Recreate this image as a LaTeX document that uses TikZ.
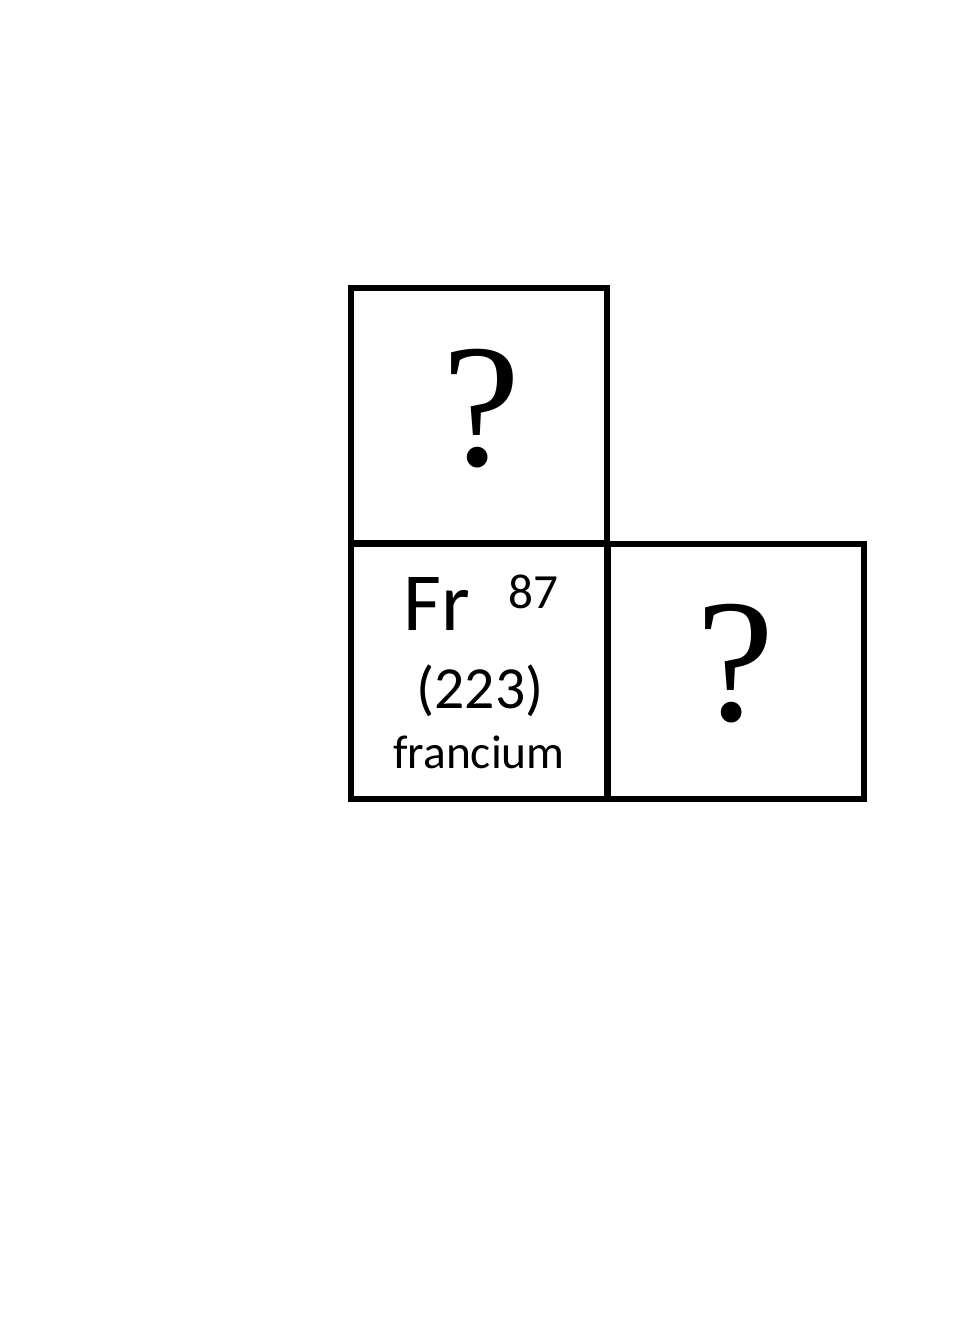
\documentclass[tikz,border=0pt]{standalone}
\usepackage{fontspec}
\setmainfont{Liberation Serif}
\newfontfamily\cellfont{Carlito}
\usepackage{tikz}
\usetikzlibrary{positioning}

\begin{document}
\begin{tikzpicture}[x=0.02cm, y=-0.02cm,
    cell/.style={rectangle, draw=black, line width=0.12cm, inner sep=0pt,
                 minimum width=5.14cm, minimum height=5.12cm},
    unknown/.style={anchor=base, inner sep=0pt, font=\fontsize{100}{100}\selectfont},
    symbol/.style={anchor=base, inner sep=0pt, font=\cellfont\fontsize{47}{47}\selectfont},
    number/.style={anchor=base, inner sep=0pt, font=\cellfont\fontsize{28}{28}\selectfont},
    mass/.style={anchor=base, inner sep=0pt, font=\cellfont\fontsize{34}{34}\selectfont},
    elname/.style={anchor=base, inner sep=0pt, font=\cellfont\fontsize{27}{27}\selectfont}
]
\useasboundingbox (0,0) rectangle (960,1344);

% the three cells
\node[cell] (upper) at (479,415.5) {};
\node[cell] (francium) at (479,671.5) {};
\node[cell] (neighbour) at (736,671.5) {};

% cell contents
\node[unknown] (upperq) at (481,465) {?};
\node[unknown] (neighbourq) at (735,720) {?};
\node[symbol] (sym) at (437,630) {Fr};
\node[number] (anum) at (533,608) {87};
\node[mass] (amass) at (480,708) {(223)};
\node[elname] (ename) at (479,768) {francium};
\end{tikzpicture}
\end{document}
